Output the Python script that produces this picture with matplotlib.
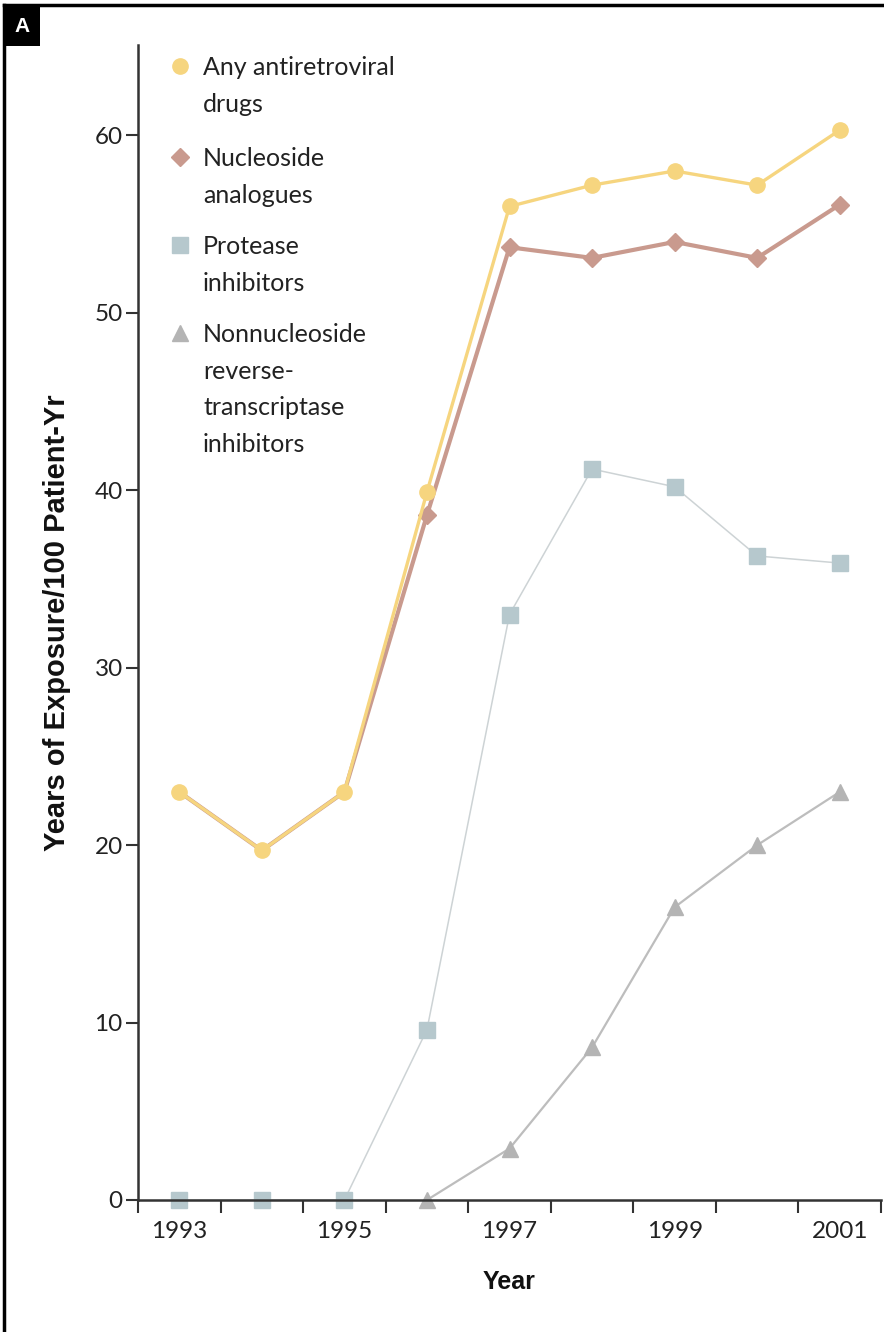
import matplotlib
matplotlib.use("Agg")
import matplotlib.pyplot as plt
from matplotlib.lines import Line2D
from matplotlib.patches import Rectangle

# ---- data ----
years = [1993, 1994, 1995, 1996, 1997, 1998, 1999, 2000, 2001]
any_arv = [23.0, 19.7, 23.0, 39.9, 56.0, 57.2, 58.0, 57.2, 60.3]
nucleoside = [23.0, 19.7, 23.0, 38.6, 53.7, 53.1, 54.0, 53.1, 56.1]
protease = [0.0, 0.0, 0.0, 9.6, 33.0, 41.2, 40.2, 36.3, 35.9]
nnrti_years = [1996, 1997, 1998, 1999, 2000, 2001]
nnrti = [0.0, 2.9, 8.6, 16.5, 20.0, 23.0]

series_labels = ["Any antiretroviral\ndrugs",
                 "Nucleoside\nanalogues",
                 "Protease\ninhibitors",
                 "Nonnucleoside\nreverse-\ntranscriptase\ninhibitors"]
y_ticks = [0, 10, 20, 30, 40, 50, 60]
x_tick_labels = [1993, 1995, 1997, 1999, 2001]
y_label = "Years of Exposure/100 Patient-Yr"
x_label = "Year"
panel_label = "A"

# ---- style ----
c_any = "#F6D57F"
c_nuc = "#C99A8E"
c_pro_m = "#B6C8CD"
c_pro_l = "#CDD3D5"
c_nn_m = "#B4B4B4"
c_nn_l = "#BDBDBD"
tick_font = "Lato"
axis_color = "#333333"

W, H = 884, 1332
fig = plt.figure(figsize=(W / 100, H / 100), dpi=100)
ax = fig.add_axes([138 / W, 1 - 1200 / H, (881 - 138) / W, (1200 - 45) / H])

ax.plot(years, nucleoside, color=c_nuc, lw=3.0, marker="D", ms=9,
        mfc=c_nuc, mec=c_nuc, markevery=slice(3, None), clip_on=False, zorder=3)
ax.plot(years, any_arv, color=c_any, lw=2.4, marker="o", ms=11,
        mfc=c_any, mec=c_any, clip_on=False, zorder=4)
ax.plot(years, protease, color=c_pro_l, lw=1.1, marker="s", ms=11,
        mfc=c_pro_m, mec=c_pro_m, clip_on=False, zorder=2)
ax.plot(nnrti_years, nnrti, color=c_nn_l, lw=1.6, marker="^", ms=11,
        mfc=c_nn_m, mec=c_nn_m, clip_on=False, zorder=2)

ax.set_xlim(1992.5, 2001.5)
ax.set_ylim(0, 65.1)

for s in ["top", "right"]:
    ax.spines[s].set_visible(False)
for s in ["left", "bottom"]:
    ax.spines[s].set_color(axis_color)
    ax.spines[s].set_linewidth(1.8)

ax.set_yticks(y_ticks)
ax.set_yticklabels([str(v) for v in y_ticks], fontfamily=tick_font, fontsize=17.5, color="#222222")
ax.tick_params(axis="y", direction="out", length=9, width=1.5, color=axis_color, pad=2)

ax.set_xticks([y - 0.5 for y in years] + [years[-1] + 0.5])
ax.set_xticklabels([])
ax.tick_params(axis="x", which="major", direction="out", length=9, width=1.5, color=axis_color)
ax.set_xticks(x_tick_labels, minor=True)
ax.set_xticklabels([str(v) for v in x_tick_labels], minor=True,
                   fontfamily=tick_font, fontsize=17.5, color="#222222")
ax.tick_params(axis="x", which="minor", length=0, pad=15)

ax.set_ylabel(y_label, fontfamily="Liberation Sans", fontweight="bold", fontsize=21,
              color="#111111", labelpad=17)
ax.set_xlabel(x_label, fontfamily="Liberation Sans", fontweight="bold", fontsize=18,
              color="#111111", labelpad=20)

# ---- legend (manual) ----
leg_markers = [("o", c_any, 11), ("D", c_nuc, 9), ("s", c_pro_m, 11), ("^", c_nn_m, 11)]
leg_y = [66, 157, 245, 333]  # pixel rows of first line
for (m, c, ms), lab, yp in zip(leg_markers, series_labels, leg_y):
    fy = 1 - yp / H
    fig.add_artist(Line2D([180 / W], [fy], marker=m, ms=ms, mfc=c, mec=c, ls="none",
                          transform=fig.transFigure))
    fig.text(203 / W, fy + 10 / H, lab, ha="left", va="top", fontfamily=tick_font,
             fontsize=18, color="#222222", linespacing=1.72)

# ---- frame and panel label ----
fig.add_artist(Line2D([4 / W, 4 / W], [0, 1 - 5 / H], color="black", lw=2.5,
                      transform=fig.transFigure))
fig.add_artist(Line2D([4 / W, 1], [1 - 5 / H, 1 - 5 / H], color="black", lw=2.5,
                      transform=fig.transFigure))
fig.add_artist(Rectangle((4 / W, 1 - 46 / H), 36 / W, 41 / H, facecolor="black",
                         edgecolor="none", transform=fig.transFigure))
fig.text(22 / W, 1 - 26 / H, panel_label, color="white", fontsize=15, fontweight="bold",
         fontfamily="Liberation Sans", ha="center", va="center")

fig.savefig("out.png", dpi=100, facecolor="white")
